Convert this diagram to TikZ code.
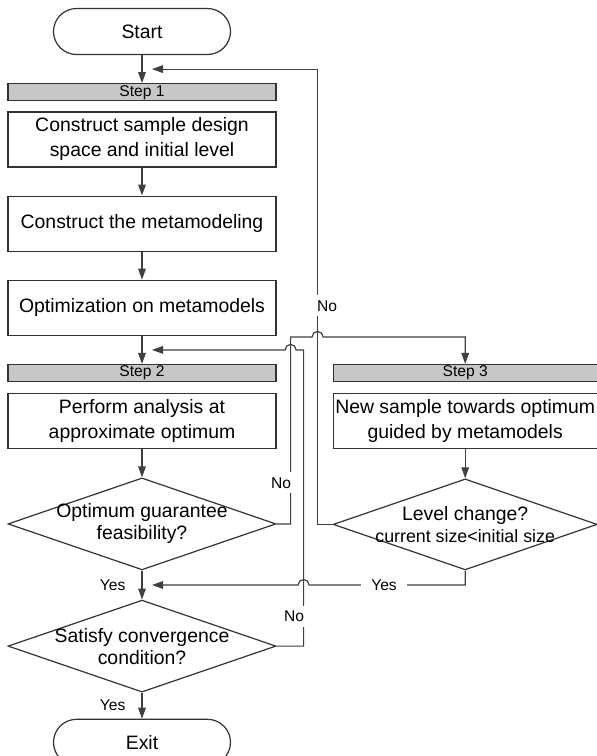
\documentclass[tikz,border=0pt]{standalone}
\usepackage{fontspec}
\setmainfont{Liberation Sans}
\usetikzlibrary{shapes.geometric,arrows.meta,positioning,calc}

\begin{document}
\begin{tikzpicture}[
    x=0.5pt, y=-0.5pt,
    node distance=14pt,
    % Nodes
    term/.style={rectangle, rounded corners=11.5pt, draw=black!80, line width=0.6pt, minimum width=88.5pt, minimum height=23pt, font=\fontsize{9.7}{12}\selectfont},
    stepbar/.style={rectangle, draw=black!80, line width=0.6pt, fill=black!22, minimum width=134pt, minimum height=8.5pt, inner sep=0pt, font=\fontsize{7.8}{9}\selectfont},
    proc/.style={rectangle, draw=black!80, line width=0.6pt, minimum width=134pt, minimum height=27.5pt, inner xsep=1pt, inner ysep=2pt, align=center, font=\fontsize{9.7}{12.5}\selectfont},
    decision/.style={diamond, aspect=2.9, draw=black!80, line width=0.6pt, minimum width=134pt, minimum height=46pt, inner xsep=-30pt, inner ysep=-8pt, align=center, font=\fontsize{9.7}{11}\selectfont},
    % Connectors
    flow/.style={-{Triangle[length=5.5pt,width=3.8pt]}, draw=black!75, line width=0.6pt},
    lbl/.style={font=\fontsize{7.8}{9}\selectfont, inner sep=1pt},
    gap/.style={lbl, fill=white, inner ysep=2.5pt}
]
\useasboundingbox (0,0) rectangle (597,756);

% Step 1 and Step 2 column
\node[term] (start) at (142,31.5) {Start};
\node[stepbar, below=of start] (step1) {Step 1};
\node[proc, below=5pt of step1] (construct) {Construct sample design\\space and initial level};
\node[proc, below=of construct] (metamodel) {Construct the metamodeling};
\node[proc, below=of metamodel] (optimize) {Optimization on metamodels};
\node[stepbar, below=of optimize] (step2) {Step 2};
\node[proc, below=5.5pt of step2] (analysis) {Perform analysis at\\approximate optimum};
\node[decision, below=of analysis] (feasible) {Optimum guarantee\\feasibility?};
\node[decision, below=14.5pt of feasible] (converge) {Satisfy convergence\\condition?};
\node[term, below=13pt of converge] (exit) {Exit};

% Step 3 column
\node[stepbar, minimum width=132pt, right=28pt of step2] (step3) {Step 3};
\node[proc, minimum width=132pt, below=5.5pt of step3] (newsample) {New sample towards optimum\\guided by metamodels};
\node[decision, minimum width=132pt, minimum height=45.5pt, below=14.5pt of newsample] (level) {Level change?\\{\fontsize{8.9}{10}\selectfont current size<initial size}};

% Junctions on the main line
\coordinate (j1) at ($(start.south)!0.5!(step1.north)+(10,0)$);
\coordinate (j2) at ($(optimize.south)!0.5!(step2.north)+(10,0)$);
\coordinate (j3) at ($(feasible.south)!0.5!(converge.north)+(10,0)$);

% Main flow
\draw[flow] (start) -- (step1);
\draw[flow] (construct) -- (metamodel);
\draw[flow] (metamodel) -- (optimize);
\draw[flow] (optimize) -- (step2);
\draw[flow] (analysis) -- (feasible);
\draw[flow] (feasible) -- node[lbl, left=7pt] {Yes} (converge);
\draw[flow] (converge) -- node[lbl, left=7pt] {Yes} (exit);
\draw[flow] (newsample) -- (level);

% Level change? -- No
\draw[flow] (level.west) -- ++(-7.5pt,0pt) coordinate (levelno) |- node[gap, pos=0.24, anchor=west, xshift=-1.5pt] {No} (j1);

% Optimum guarantee feasibility? -- No
\draw[flow] (feasible.east) -- ++(7pt,0pt) coordinate (feasno) |- node[gap, pos=0.11, anchor=east, xshift=1.5pt] {No} ($(levelno |- step3.north)+(-2.75pt,13.5pt)$) arc[start angle=180, end angle=0, radius=2.75pt] -| (step3.north);

% Satisfy convergence condition? -- No
\draw[flow] (converge.east) -- ++(13.5pt,0pt) coordinate (convno) |- node[gap, pos=0.05, anchor=east, xshift=1.5pt] {No} ($(feasno |- j2)+(2.75pt,0pt)$) arc[start angle=0, end angle=180, radius=2.75pt] -- (j2);

% Level change? -- Yes
\draw[flow] (level.south) |- node[gap, pos=0.76, inner xsep=5pt] {Yes} ($(convno |- j3)+(2.75pt,0pt)$) arc[start angle=0, end angle=180, radius=2.75pt] -- (j3);

\end{tikzpicture}
\end{document}
